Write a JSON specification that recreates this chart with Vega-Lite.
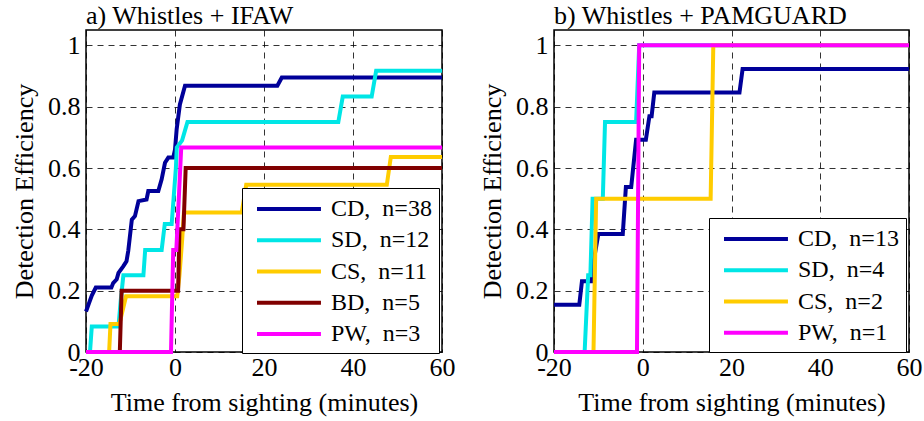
{
  "$schema": "https://vega.github.io/schema/vega-lite/v6.json",
  "background": "white",
  "padding": {"left": 10, "top": 2, "right": 5, "bottom": 2},
  "spacing": 22,
  "config": {
    "font": "Liberation Serif",
    "view": {"stroke": "black", "strokeWidth": 1.5},
    "axis": {
      "labelFont": "Liberation Serif", "labelFontSize": 26, "labelColor": "black",
      "titleFont": "Liberation Serif", "titleFontSize": 26, "titleFontWeight": "normal", "titleColor": "black",
      "domain": false, "ticks": false, "grid": true, "gridColor": "black", "gridDash": [6, 5],
      "gridWidth": 1, "gridOpacity": 0.8, "labelFlush": false, "labelOverlap": false
    },
    "axisX": {"labelPadding": 2, "titlePadding": 9},
    "axisY": {"labelPadding": 6, "titlePadding": 10},
    "legend": {
      "orient": "none", "title": null, "symbolType": "M-0.5,0H4.83", "symbolSize": 576, "symbolStrokeWidth": 4,
      "labelFont": "Liberation Serif", "labelFontSize": 24, "labelColor": "black",
      "strokeColor": "black", "fillColor": "white", "padding": 7, "rowPadding": 5.25, "labelOffset": 54
    },
    "title": {"font": "Liberation Serif", "fontSize": 26, "fontWeight": "normal", "anchor": "start", "frame": "group", "color": "black", "offset": 1}
  },
  "datasets": {
    "a": [
      {"s": "CD", "t": -20, "e": 0.132}, {"s": "CD", "t": -19.3, "e": 0.16}, {"s": "CD", "t": -18.7, "e": 0.184},
      {"s": "CD", "t": -17.8, "e": 0.21}, {"s": "CD", "t": -14.3, "e": 0.21}, {"s": "CD", "t": -13.9, "e": 0.225},
      {"s": "CD", "t": -13.1, "e": 0.237}, {"s": "CD", "t": -12.7, "e": 0.258}, {"s": "CD", "t": -11.6, "e": 0.28},
      {"s": "CD", "t": -10.9, "e": 0.296}, {"s": "CD", "t": -10.5, "e": 0.33}, {"s": "CD", "t": -9.7, "e": 0.432},
      {"s": "CD", "t": -9.0, "e": 0.443}, {"s": "CD", "t": -8.2, "e": 0.492}, {"s": "CD", "t": -6.4, "e": 0.497},
      {"s": "CD", "t": -6.0, "e": 0.525}, {"s": "CD", "t": -3.75, "e": 0.525}, {"s": "CD", "t": -3.0, "e": 0.563},
      {"s": "CD", "t": -2.25, "e": 0.617}, {"s": "CD", "t": -1.5, "e": 0.634}, {"s": "CD", "t": -0.4, "e": 0.634},
      {"s": "CD", "t": 0, "e": 0.66}, {"s": "CD", "t": 0.37, "e": 0.726}, {"s": "CD", "t": 1.1, "e": 0.807},
      {"s": "CD", "t": 2.25, "e": 0.868}, {"s": "CD", "t": 23.0, "e": 0.868}, {"s": "CD", "t": 24.0, "e": 0.895},
      {"s": "CD", "t": 60, "e": 0.895},
      {"s": "SD", "t": -20, "e": 0}, {"s": "SD", "t": -19.1, "e": 0}, {"s": "SD", "t": -18.7, "e": 0.083},
      {"s": "SD", "t": -12.7, "e": 0.083}, {"s": "SD", "t": -12.2, "e": 0.167}, {"s": "SD", "t": -11.6, "e": 0.25},
      {"s": "SD", "t": -7.1, "e": 0.25}, {"s": "SD", "t": -6.7, "e": 0.333}, {"s": "SD", "t": -3.0, "e": 0.333},
      {"s": "SD", "t": -2.3, "e": 0.417}, {"s": "SD", "t": -0.75, "e": 0.417}, {"s": "SD", "t": 0.2, "e": 0.6},
      {"s": "SD", "t": 0.4, "e": 0.667}, {"s": "SD", "t": 1.6, "e": 0.69}, {"s": "SD", "t": 2.8, "e": 0.75},
      {"s": "SD", "t": 36.7, "e": 0.75}, {"s": "SD", "t": 37.7, "e": 0.833}, {"s": "SD", "t": 44.2, "e": 0.833},
      {"s": "SD", "t": 45.2, "e": 0.917}, {"s": "SD", "t": 60, "e": 0.917},
      {"s": "CS", "t": -20, "e": 0}, {"s": "CS", "t": -14.8, "e": 0}, {"s": "CS", "t": -14.5, "e": 0.091},
      {"s": "CS", "t": -12.5, "e": 0.091}, {"s": "CS", "t": -11.0, "e": 0.182}, {"s": "CS", "t": 0.5, "e": 0.182},
      {"s": "CS", "t": 1.0, "e": 0.25}, {"s": "CS", "t": 1.6, "e": 0.364}, {"s": "CS", "t": 2.0, "e": 0.455},
      {"s": "CS", "t": 15.0, "e": 0.455}, {"s": "CS", "t": 16.0, "e": 0.545}, {"s": "CS", "t": 47.6, "e": 0.545},
      {"s": "CS", "t": 48.5, "e": 0.636}, {"s": "CS", "t": 60, "e": 0.636},
      {"s": "BD", "t": -20, "e": 0}, {"s": "BD", "t": -12.4, "e": 0}, {"s": "BD", "t": -12.0, "e": 0.2},
      {"s": "BD", "t": 0.7, "e": 0.2}, {"s": "BD", "t": 1.0, "e": 0.4}, {"s": "BD", "t": 1.9, "e": 0.4},
      {"s": "BD", "t": 2.4, "e": 0.6}, {"s": "BD", "t": 60, "e": 0.6},
      {"s": "PW", "t": -20, "e": 0}, {"s": "PW", "t": -0.9, "e": 0}, {"s": "PW", "t": -0.4, "e": 0.333},
      {"s": "PW", "t": 0.3, "e": 0.333}, {"s": "PW", "t": 1.4, "e": 0.667}, {"s": "PW", "t": 60, "e": 0.667}
    ],
    "b": [
      {"s": "CD", "t": -20, "e": 0.154}, {"s": "CD", "t": -14.3, "e": 0.154}, {"s": "CD", "t": -13.7, "e": 0.231},
      {"s": "CD", "t": -11.6, "e": 0.231}, {"s": "CD", "t": -10.9, "e": 0.31}, {"s": "CD", "t": -10.0, "e": 0.385},
      {"s": "CD", "t": -4.5, "e": 0.385}, {"s": "CD", "t": -3.8, "e": 0.538}, {"s": "CD", "t": -2.6, "e": 0.538},
      {"s": "CD", "t": -1.5, "e": 0.692}, {"s": "CD", "t": 0.7, "e": 0.692}, {"s": "CD", "t": 1.5, "e": 0.769},
      {"s": "CD", "t": 2.0, "e": 0.769}, {"s": "CD", "t": 2.6, "e": 0.846}, {"s": "CD", "t": 21.8, "e": 0.846},
      {"s": "CD", "t": 22.5, "e": 0.923}, {"s": "CD", "t": 60, "e": 0.923},
      {"s": "SD", "t": -20, "e": 0}, {"s": "SD", "t": -13.1, "e": 0}, {"s": "SD", "t": -12.3, "e": 0.25},
      {"s": "SD", "t": -11.8, "e": 0.25}, {"s": "SD", "t": -11.3, "e": 0.5}, {"s": "SD", "t": -9.0, "e": 0.5},
      {"s": "SD", "t": -8.5, "e": 0.75}, {"s": "SD", "t": -1.5, "e": 0.75}, {"s": "SD", "t": -0.8, "e": 1},
      {"s": "SD", "t": 60, "e": 1},
      {"s": "CS", "t": -20, "e": 0}, {"s": "CS", "t": -11.1, "e": 0}, {"s": "CS", "t": -10.5, "e": 0.5},
      {"s": "CS", "t": 15.3, "e": 0.5}, {"s": "CS", "t": 15.9, "e": 1}, {"s": "CS", "t": 60, "e": 1},
      {"s": "PW", "t": -20, "e": 0}, {"s": "PW", "t": -1.3, "e": 0}, {"s": "PW", "t": -0.8, "e": 1},
      {"s": "PW", "t": 60, "e": 1}
    ]
  },
  "hconcat": [
    {
      "title": "a) Whistles + IFAW",
      "width": 356, "height": 322,
      "data": {"name": "a"},
      "mark": {"type": "line", "strokeWidth": 4},
      "encoding": {
        "x": {"field": "t", "type": "quantitative", "scale": {"domain": [-20, 60], "nice": false},
              "axis": {"values": [-20, 0, 20, 40, 60], "labelExpr": "datum.value + ''", "title": "Time from sighting (minutes)"}},
        "y": {"field": "e", "type": "quantitative", "scale": {"domain": [0, 1.05], "nice": false},
              "axis": {"values": [0, 0.2, 0.4, 0.6, 0.8, 1], "format": ".1~f", "title": "Detection Efficiency"}},
        "color": {"field": "s", "type": "nominal",
                  "scale": {"domain": ["CD", "SD", "CS", "BD", "PW"], "range": ["#000099", "#00E6E6", "#FFCC00", "#800000", "#FF00FF"]},
                  "legend": {"legendX": 156, "legendY": 158,
                             "labelExpr": "datum.label == 'CD' ? 'CD,\u00a0\u00a0n=38\u00a0' : datum.label == 'SD' ? 'SD,\u00a0\u00a0n=12\u00a0' : datum.label == 'CS' ? 'CS,\u00a0\u00a0n=11\u00a0' : datum.label == 'BD' ? 'BD,\u00a0\u00a0n=5' : 'PW,\u00a0\u00a0n=3'"}}
      }
    },
    {
      "title": "b) Whistles + PAMGUARD",
      "width": 355, "height": 322,
      "data": {"name": "b"},
      "mark": {"type": "line", "strokeWidth": 4},
      "encoding": {
        "x": {"field": "t", "type": "quantitative", "scale": {"domain": [-20, 60], "nice": false},
              "axis": {"values": [-20, 0, 20, 40, 60], "labelExpr": "datum.value + ''", "title": "Time from sighting (minutes)"}},
        "y": {"field": "e", "type": "quantitative", "scale": {"domain": [0, 1.05], "nice": false},
              "axis": {"values": [0, 0.2, 0.4, 0.6, 0.8, 1], "format": ".1~f", "title": "Detection Efficiency"}},
        "color": {"field": "s", "type": "nominal",
                  "scale": {"domain": ["CD", "SD", "CS", "PW"], "range": ["#000099", "#00E6E6", "#FFCC00", "#FF00FF"]},
                  "legend": {"legendX": 155, "legendY": 188,
                             "labelExpr": "datum.label == 'CD' ? 'CD,\u00a0\u00a0n=13\u00a0' : datum.label == 'SD' ? 'SD,\u00a0\u00a0n=4' : datum.label == 'CS' ? 'CS,\u00a0\u00a0n=2' : 'PW,\u00a0\u00a0n=1'"}}
      }
    }
  ],
  "resolve": {"scale": {"color": "independent"}}
}
